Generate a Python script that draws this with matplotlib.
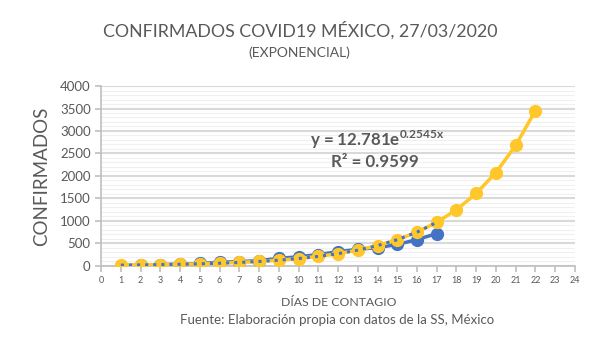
import matplotlib.pyplot as plt
import numpy as np
from matplotlib.ticker import MultipleLocator

# datos
dias_reales = list(range(1, 18))
confirmados = [7, 12, 26, 41, 53, 82, 93, 118, 164, 203, 251, 316, 367, 405, 475, 585, 717]
dias_proy = list(range(1, 23))
proyeccion = [16.5, 21, 27.5, 35, 46, 59, 76, 98, 126, 163, 210, 271, 349, 451,
              581, 750, 967, 1248, 1610, 2076, 2678, 3455]
# coeficientes de la linea de tendencia (del rotulo)
coef_a = 12.781
coef_b = 0.2545

plt.rcParams['font.family'] = ['Lato', 'DejaVu Sans']
plt.rcParams['mathtext.fontset'] = 'custom'
plt.rcParams['mathtext.bf'] = 'Lato:bold'
plt.rcParams['mathtext.rm'] = 'Lato'
gris = '#595959'

fig = plt.figure(figsize=(6.02, 3.54), dpi=100)
ax = fig.add_axes([0.168, 0.249, 0.787, 0.508])

azul = '#4472C4'
amarillo = '#FFC729'
ax.plot(dias_reales, confirmados, '-o', color=azul, lw=2.5, ms=8.5, zorder=3)
ax.plot(dias_proy, proyeccion, '-o', color=amarillo, lw=2.5, ms=8.5, zorder=4)
xt = np.array(dias_reales, dtype=float)
ax.plot(xt, coef_a * np.exp(coef_b * xt), ':', color=azul, lw=2.2, zorder=5)

ax.set_xlim(0, 24)
ax.set_ylim(0, 4000)
ax.xaxis.set_major_locator(MultipleLocator(1))
ax.yaxis.set_major_locator(MultipleLocator(500))
ax.yaxis.set_minor_locator(MultipleLocator(100))
ax.grid(axis='y', which='major', color='#D9D9D9', lw=1.5, zorder=0)
ax.grid(axis='y', which='minor', color='#F0F0F0', lw=0.8, zorder=0)
ax.set_axisbelow(True)
for s in ['top', 'right']:
    ax.spines[s].set_visible(False)
for s in ['left', 'bottom']:
    ax.spines[s].set_color('#BFBFBF')
    ax.spines[s].set_linewidth(1.2)
ax.tick_params(axis='y', which='major', colors='#BFBFBF', labelcolor=gris,
               labelsize=9.5, length=4, width=1.2)
ax.tick_params(axis='y', which='minor', length=0)
ax.tick_params(axis='x', colors='#BFBFBF', labelcolor=gris, labelsize=6.5,
               length=4, width=1.2, pad=3)

ax.set_ylabel('CONFIRMADOS', fontsize=13.5, color=gris, labelpad=7)
fig.text(0.563, 0.135, 'DÍAS DE CONTAGIO', fontsize=8.8, color=gris, ha='center')
fig.text(0.56, 0.085, 'Fuente: Elaboración propia con datos de la SS, México',
         fontsize=9.5, color=gris, ha='center')

fig.text(0.498, 0.897, 'CONFIRMADOS COVID19 MÉXICO, 27/03/2020',
         fontsize=12.8, color=gris, ha='center')
fig.text(0.498, 0.838, '(EXPONENCIAL)', fontsize=10, color=gris, ha='center')

ax.text(0.441, 0.665, r'y = 12.781e$^{\mathbf{0.2545x}}$', transform=ax.transAxes,
        fontsize=12.2, fontweight='bold', color=gris)
ax.text(0.485, 0.55, 'R² = 0.9599', transform=ax.transAxes,
        fontsize=12.2, fontweight='bold', color=gris)

fig.savefig('out.png', dpi=100)
